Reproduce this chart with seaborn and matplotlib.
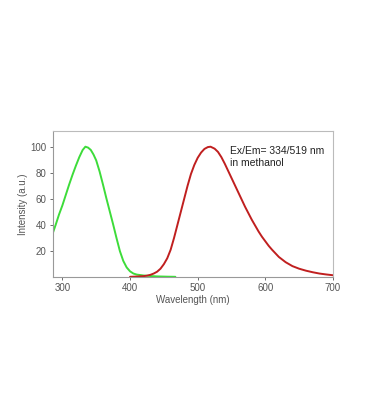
import pandas as pd
import numpy as np
import seaborn as sns
import matplotlib.pyplot as plt

# excitation spectrum (green)
ex_wl = [286, 290, 295, 300, 305, 310, 315, 320, 325, 330, 334, 338, 342, 346, 350, 355, 360, 365,
         370, 375, 380, 385, 390, 395, 400, 405, 410, 420, 430, 440, 455, 467]
ex_int = [34, 40, 48, 55, 63, 71, 78.5, 85.5, 92, 97.5, 100, 99.3, 97.5, 94, 89.5, 81, 71, 60.5,
          50.5, 40.5, 30, 20, 12.5, 7.5, 4.5, 2.8, 2, 1.3, 0.9, 0.6, 0.4, 0.3]

# emission spectrum (red)
em_wl = [400, 410, 420, 425, 430, 435, 440, 445, 450, 455, 460, 465, 470, 475, 480, 485, 490, 495,
         500, 505, 510, 515, 519, 525, 530, 535, 540, 545, 550, 555, 560, 565, 570, 575, 580, 585,
         590, 595, 600, 605, 610, 620, 630, 640, 650, 660, 670, 680, 690, 700]
em_int = [0.3, 0.5, 0.8, 1.2, 1.8, 2.8, 4.2, 6.5, 10, 14.5, 21, 30, 40, 50, 60, 70, 79, 86,
          91.5, 95.5, 98.3, 99.7, 100, 98.5, 96, 92, 87, 81.5, 76, 70.5, 65, 59.5, 54, 49, 44, 39.5,
          35, 31, 27.5, 24, 21, 15.5, 11.5, 8.5, 6.5, 5, 3.8, 2.8, 2.1, 1.5]

annot = "Ex/Em= 334/519 nm\nin methanol"


def main():
    sns.set_style("white")
    plt.rcParams['font.family'] = ['Liberation Sans', 'DejaVu Sans']
    fig = plt.figure(figsize=(3.7, 4.2), dpi=100)
    ax = fig.add_axes([0.143, 0.340, 0.757, 0.348])

    ex = pd.DataFrame({'wl': ex_wl, 'y': ex_int})
    em = pd.DataFrame({'wl': em_wl, 'y': em_int})
    sns.lineplot(data=ex, x='wl', y='y', ax=ax, color='#3ddc3a', linewidth=1.4)
    sns.lineplot(data=em, x='wl', y='y', ax=ax, color='#c01f1f', linewidth=1.4)

    ax.set_xlim(286, 700)
    ax.set_ylim(0, 112)
    ax.set_xticks([300, 400, 500, 600, 700])
    ax.set_yticks([20, 40, 60, 80, 100])
    ax.set_xlabel('Wavelength (nm)', fontsize=7, color='#555555', labelpad=1)
    ax.set_ylabel('Intensity (a.u.)', fontsize=7, color='#555555', labelpad=2)
    ax.tick_params(axis='both', labelsize=7, colors='#555555', length=2.5, width=0.6, pad=2, direction='out')
    ax.tick_params(axis='x', bottom=True)
    ax.tick_params(axis='y', left=True)
    for side, sp in ax.spines.items():
        sp.set_visible(True)
        sp.set_linewidth(0.8)
        sp.set_color('#999999' if side in ('left', 'bottom') else '#bbbbbb')

    ax.text(0.632, 0.9, annot, transform=ax.transAxes, fontsize=7.5, color='#222222',
            va='top', ha='left', linespacing=1.25)

    fig.savefig('out.png', dpi=100)


if __name__ == '__main__':
    main()
